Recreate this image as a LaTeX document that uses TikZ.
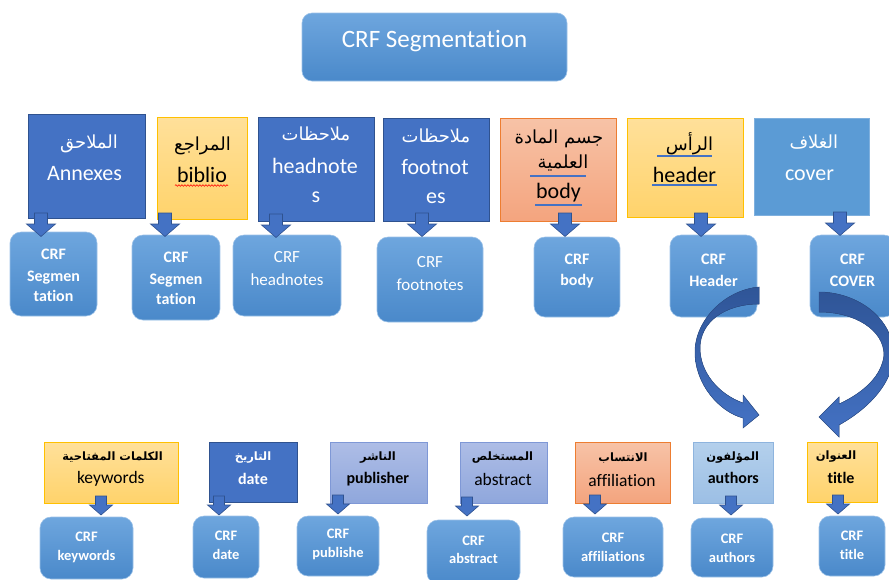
\documentclass[tikz,border=0pt]{standalone}
\usepackage{fontspec}
\setmainfont{Carlito}[Ligatures=NoCommon]
\newfontfamily\arfont[Script=Arabic]{DejaVu Sans}
\TeXXeTstate=1
\usetikzlibrary{decorations.pathmorphing}

% palette
\definecolor{dkblue}{HTML}{4472C4}
\definecolor{dkedge}{HTML}{2F528F}
\definecolor{midblue}{HTML}{5B9BD5}
\definecolor{midedge}{HTML}{7FB0DE}
\definecolor{crftop}{HTML}{6EA6DE}
\definecolor{crfbot}{HTML}{4A89CA}
\definecolor{crfedge}{HTML}{9CC2E8}
\definecolor{orgtop}{HTML}{FFE09A}
\definecolor{orgbot}{HTML}{FFD36B}
\definecolor{orgedge}{HTML}{FFC000}
\definecolor{saltop}{HTML}{F7C3A7}
\definecolor{salbot}{HTML}{F4A47E}
\definecolor{saledge}{HTML}{ED7D31}
\definecolor{pertop}{HTML}{AEBDE6}
\definecolor{perbot}{HTML}{8FA7DC}
\definecolor{peredge}{HTML}{7F98D6}
\definecolor{lbtop}{HTML}{B4D0EC}
\definecolor{lbbot}{HTML}{9CBFE5}
\definecolor{lbedge}{HTML}{8EB4DE}
\definecolor{arrdark}{HTML}{2F5597}

\newcommand\ar[1]{{\arfont\beginR #1\endR}}
\newcommand\fLab{\fontsize{22}{26}\selectfont}
\newcommand\fLabAr{\fontsize{18}{21}\selectfont}
\newcommand\fBot{\fontsize{17.5}{20}\selectfont}
\newcommand\fBotB{\fontsize{16}{19}\selectfont\bfseries}
\newcommand\fBotAr{\fontsize{11.5}{14}\selectfont\bfseries}
\newcommand\fCrf{\fontsize{16}{19}\selectfont\bfseries}
\newcommand\fCrfR{\fontsize{17}{20}\selectfont}
\newcommand\fCrfS{\fontsize{14.5}{17}\selectfont\bfseries}

\tikzset{
  box/.style={rectangle, inner sep=0pt, outer sep=0pt, line width=0.8pt},
  darkbox/.style={box, fill=dkblue, draw=dkedge},
  midbox/.style={box, fill=midblue, draw=midedge},
  orangebox/.style={box, top color=orgtop, bottom color=orgbot, draw=orgedge},
  salmonbox/.style={box, top color=saltop, bottom color=salbot, draw=saledge},
  perbox/.style={box, top color=pertop, bottom color=perbot, draw=peredge},
  lightbox/.style={box, top color=lbtop, bottom color=lbbot, draw=lbedge},
  crfbox/.style={box, rounded corners=11pt, top color=crftop, bottom color=crfbot, draw=crfedge, line width=0.6pt},
  wtxt/.style={anchor=base, inner sep=0pt, outer sep=0pt, text=white},
  btxt/.style={anchor=base, inner sep=0pt, outer sep=0pt, text=black},
  arrowbody/.style={fill=dkblue, draw=dkedge, line width=0.6pt},
  curvebody/.style={top color=arrdark, bottom color=dkblue, draw=dkedge, line width=0.5pt},
  grammar/.style={draw=dkblue, line width=1.8pt},
  spelling/.style={draw=red, line width=0.6pt, decorate,
    decoration={snake, segment length=3pt, amplitude=0.8pt}},
  pics/bigdown/.style={code={
    \filldraw[arrowbody] (-6.5,0) -- (6.5,0) -- (6.5,11) -- (14.5,11) -- (0,23.5)
      -- (-14.5,11) -- (-6.5,11) -- cycle;}},
  pics/smalldown/.style={code={
    \filldraw[arrowbody] (-5.5,0) -- (5.5,0) -- (5.5,9) -- (11.5,9) -- (0,19)
      -- (-11.5,9) -- (-5.5,9) -- cycle;}},
}

\begin{document}
\begin{tikzpicture}[x=1pt, y=-1pt]
\useasboundingbox (0,0) rectangle (889,579);
\clip (0,0) rectangle (889,579);

% ---- heading ----
\node[crfbox, rounded corners=10pt, minimum width=265pt, minimum height=68pt] (head) at (434.5,47) {};
\node[wtxt, font=\fontsize{25}{30}\selectfont] (headtxt) at (434.5,47) {CRF Segmentation};

% ---- upper row of labelled parts ----
\node[darkbox,   minimum width=117pt, minimum height=104pt] (annex)  at (86.5,166) {};
\node[orangebox, minimum width=90pt,  minimum height=102pt] (biblio) at (202,168) {};
\node[darkbox,   minimum width=116pt, minimum height=104pt] (headn)  at (316,169) {};
\node[darkbox,   minimum width=106pt, minimum height=103pt] (footn)  at (436,169.5) {};
\node[salmonbox, minimum width=116pt, minimum height=103pt] (body)   at (558,169.5) {};
\node[orangebox, minimum width=116pt, minimum height=99pt]  (header) at (685,167.5) {};
\node[midbox,    minimum width=115pt, minimum height=97pt]  (cover)  at (811.5,166.5) {};

% ---- upper row of CRF models ----
\node[crfbox, minimum width=87pt,  minimum height=84pt] (c1) at (53.5,274) {};
\node[crfbox, minimum width=88pt,  minimum height=85pt] (c2) at (176,277.5) {};
\node[crfbox, minimum width=108pt, minimum height=81pt] (c3) at (287,275.5) {};
\node[crfbox, minimum width=106pt, minimum height=85pt] (c4) at (430,279.5) {};
\node[crfbox, minimum width=86pt,  minimum height=80pt] (c5) at (577,277) {};
\node[crfbox, minimum width=87pt,  minimum height=82pt] (c6) at (713.5,276) {};
\node[crfbox, minimum width=85pt,  minimum height=82pt] (c7) at (852.5,276) {};

% ---- lower row of labelled parts ----
\node[orangebox, minimum width=134pt, minimum height=61pt] (kw)    at (111,472.5) {};
\node[darkbox,   minimum width=88pt,  minimum height=60pt] (date)  at (253,472) {};
\node[perbox,    minimum width=97pt,  minimum height=61pt] (pub)   at (378.5,472.5) {};
\node[perbox,    minimum width=87pt,  minimum height=61pt] (abs)   at (503.5,472.5) {};
\node[salmonbox, minimum width=95pt,  minimum height=61pt] (aff)   at (622.5,472.5) {};
\node[lightbox,  minimum width=80pt,  minimum height=61pt] (auth)  at (733,472.5) {};
\node[orangebox, minimum width=70pt,  minimum height=60pt] (ttl)   at (842,472) {};

% ---- lower row of CRF models ----
\node[crfbox, minimum width=93pt,  minimum height=62pt] (d1) at (86.5,548) {};
\node[crfbox, minimum width=66pt,  minimum height=62pt] (d2) at (226,547) {};
\node[crfbox, minimum width=82pt,  minimum height=60pt] (d3) at (338,546) {};
\node[crfbox, minimum width=93pt,  minimum height=64pt] (d4) at (473.5,552) {};
\node[crfbox, minimum width=100pt, minimum height=60pt] (d5) at (613,547) {};
\node[crfbox, minimum width=82pt,  minimum height=59pt] (d6) at (732,547.5) {};
\node[crfbox, minimum width=66pt,  minimum height=60pt] (d7) at (852,546) {};

% ---- curved arrows from header and cover models down to the lower row ----
\filldraw[curvebody] (759,287) .. controls (725,290) and (695,320) .. (695,352)
  .. controls (695,385) and (720,412) .. (743,418) -- (743,428) -- (759,415)
  -- (743,395) -- (743,403) .. controls (718,394) and (700,372) .. (700,348)
  .. controls (700,322) and (725,304) .. (759,304) -- cycle;
\filldraw[curvebody] (819,292) .. controls (850,292) and (885,310) .. (893,345)
  .. controls (898,375) and (875,405) .. (839,425) -- (839,437) -- (819,417)
  -- (839,397) -- (839,404) .. controls (865,392) and (882,375) .. (884,355)
  .. controls (884,330) and (855,312) .. (819,312) -- cycle;

% ---- texts of the upper labels ----
\node[wtxt, font=\fLabAr] (annexA) at (89,148) {\ar{الملاحق}};
\node[wtxt, font=\fLab]   (annexL) at (84.5,180) {Annexes};
\node[btxt, font=\fLabAr] (biblioA) at (202.5,150) {\ar{المراجع}};
\node[btxt, font=\fLab]   (biblioL) at (202,182) {biblio};
\node[wtxt, font=\fLabAr] (headnA) at (316,140) {\ar{ملاحظات}};
\node[wtxt, font=\fLab]   (headnL) at (315,173) {headnote};
\node[wtxt, font=\fLab]   (headnS) at (316,202) {s};
\node[wtxt, font=\fLabAr] (footnA) at (436,142) {\ar{ملاحظات}};
\node[wtxt, font=\fLab]   (footnL) at (435,174) {footnot};
\node[wtxt, font=\fLab]   (footnS) at (436,203) {es};
\node[btxt, font=\fLabAr] (bodyA) at (559,143) {\ar{جسم المادة}};
\node[btxt, font=\fLabAr] (bodyB) at (563,168) {\ar{العلمية}};
\node[btxt, font=\fLab]   (bodyL) at (558.5,198) {body};
\node[btxt, font=\fLabAr] (headerA) at (689.5,150) {\ar{الرأس}};
\node[btxt, font=\fLab]   (headerL) at (684.5,182) {header};
\node[wtxt, font=\fLabAr] (coverA) at (813.8,148) {\ar{الغلاف}};
\node[wtxt, font=\fLab]   (coverL) at (809.5,180) {cover};

% proofing marks under some words
\draw[spelling] (175,185.5) -- (228,185.5);
\draw[grammar] (530,176) -- (586,176);
\draw[grammar] (535,205) -- (582,205);
\draw[grammar] (657,156) -- (712,156);
\draw[grammar] (652,185) -- (717,185);

% ---- texts of the upper CRF models ----
\node[wtxt, font=\fCrf] (c1a) at (53.5,259) {CRF};
\node[wtxt, font=\fCrf] (c1b) at (53.5,281) {Segmen};
\node[wtxt, font=\fCrf] (c1c) at (53.5,301) {tation};
\node[wtxt, font=\fCrf] (c2a) at (176,262) {CRF};
\node[wtxt, font=\fCrf] (c2b) at (176,284) {Segmen};
\node[wtxt, font=\fCrf] (c2c) at (176,304) {tation};
\node[wtxt, font=\fCrfR] (c3a) at (287,262.5) {CRF};
\node[wtxt, font=\fCrfR] (c3b) at (287,285) {headnotes};
\node[wtxt, font=\fCrfR] (c4a) at (430,267) {CRF};
\node[wtxt, font=\fCrfR] (c4b) at (430,290) {footnotes};
\node[wtxt, font=\fCrf] (c5a) at (577,264) {CRF};
\node[wtxt, font=\fCrf] (c5b) at (577,285) {body};
\node[wtxt, font=\fCrf] (c6a) at (713.5,264) {CRF};
\node[wtxt, font=\fCrf] (c6b) at (713.5,286) {Header};
\node[wtxt, font=\fCrf] (c7a) at (852.5,264) {CRF};
\node[wtxt, font=\fCrf] (c7b) at (852.5,286) {COVER};

% ---- texts of the lower labels ----
\node[btxt, font=\fBotAr] (kwA) at (112.5,460) {\ar{الكلمات المفتاحية}};
\node[btxt, font=\fBot]   (kwL) at (110.8,483) {keywords};
\node[wtxt, font=\fBotAr] (dateA) at (253,460) {\ar{التاريخ}};
\node[wtxt, font=\fBotB]  (dateL) at (253,484) {date};
\node[btxt, font=\fBotAr] (pubA) at (378,460) {\ar{الناشر}};
\node[btxt, font=\fBotB]  (pubL) at (377.8,483) {publisher};
\node[btxt, font=\fBotAr] (absA) at (502.5,460) {\ar{المستخلص}};
\node[btxt, font=\fBot]   (absL) at (503,485) {abstract};
\node[btxt, font=\fBotAr] (affA) at (623,461) {\ar{الانتساب}};
\node[btxt, font=\fBot]   (affL) at (622,486) {affiliation};
\node[btxt, font=\fBotAr] (authA) at (732.7,460) {\ar{المؤلفون}};
\node[btxt, font=\fBotB]  (authL) at (733.3,483) {authors};
\node[btxt, font=\fBotAr] (ttlA) at (836,459) {\ar{العنوان}};
\node[btxt, font=\fBotB]  (ttlL) at (841,483) {title};

% ---- texts of the lower CRF models ----
\node[wtxt, font=\fCrfS] (d1a) at (86.5,541) {CRF};
\node[wtxt, font=\fCrfS] (d1b) at (86.5,560) {keywords};
\node[wtxt, font=\fCrfS] (d2a) at (226,540) {CRF};
\node[wtxt, font=\fCrfS] (d2b) at (226,559) {date};
\node[wtxt, font=\fCrfS] (d3a) at (338,538) {CRF};
\node[wtxt, font=\fCrfS] (d3b) at (338,557) {publishe};
\node[wtxt, font=\fCrfS] (d4a) at (473.5,545) {CRF};
\node[wtxt, font=\fCrfS] (d4b) at (473.5,563) {abstract};
\node[wtxt, font=\fCrfS] (d5a) at (613,542) {CRF};
\node[wtxt, font=\fCrfS] (d5b) at (613,561) {affiliations};
\node[wtxt, font=\fCrfS] (d6a) at (732,543) {CRF};
\node[wtxt, font=\fCrfS] (d6b) at (732,562) {authors};
\node[wtxt, font=\fCrfS] (d7a) at (852,540) {CRF};
\node[wtxt, font=\fCrfS] (d7b) at (852,559) {title};

% ---- block arrows from each label into its CRF model ----
\pic at (41,213)  {bigdown};
\pic at (165,213) {bigdown};
\pic at (276,214) {bigdown};
\pic at (422,213) {bigdown};
\pic at (565,213) {bigdown};
\pic at (701,213) {bigdown};
\pic at (840,212) {bigdown};

\pic at (101,496) {smalldown};
\pic at (219,496) {smalldown};
\pic at (338,495) {smalldown};
\pic at (467,497) {smalldown};
\pic at (595,495) {smalldown};
\pic at (731,496) {smalldown};
\pic at (838,495) {smalldown};
\end{tikzpicture}
\end{document}
